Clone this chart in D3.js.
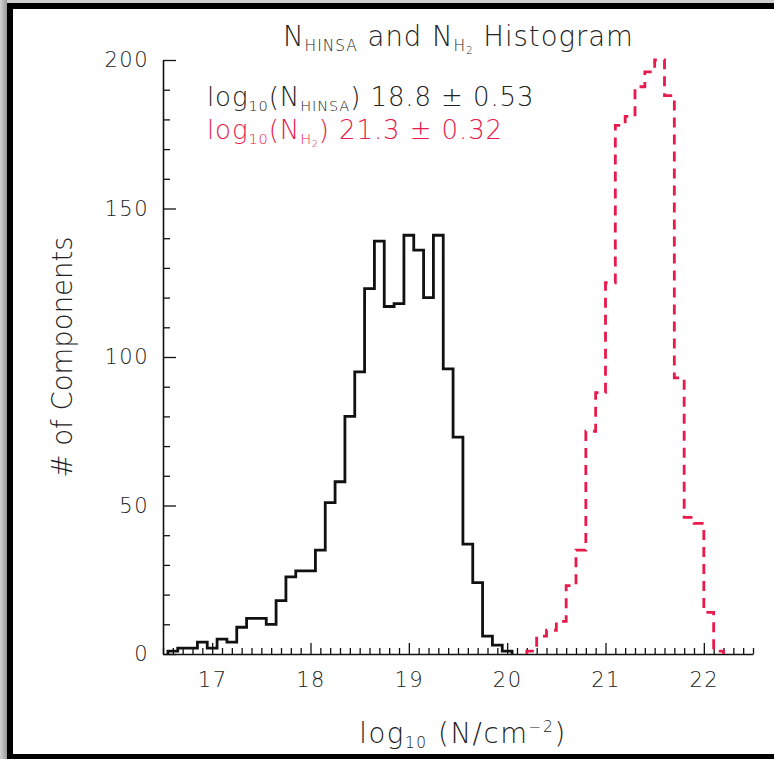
<!DOCTYPE html>
<html>
<head>
<meta charset="utf-8">
<script src="https://cdn.jsdelivr.net/npm/d3@7"></script>
<style>
  html, body { margin: 0; padding: 0; background: #ffffff; }
  svg { display: block; }
  text { font-family: "DejaVu Sans", sans-serif; }
</style>
</head>
<body>
<svg id="chart" width="774" height="759"></svg>
<script>
// Column density histograms: HINSA components (black) and H2 (red, dashed)
const hinsaBinStarts = [16.55, 16.65, 16.75, 16.85, 16.95, 17.05, 17.15, 17.25, 17.35, 17.45,
                        17.55, 17.65, 17.75, 17.85, 17.95, 18.05, 18.15, 18.25, 18.35, 18.45,
                        18.55, 18.65, 18.75, 18.85, 18.95, 19.05, 19.15, 19.25, 19.35, 19.45,
                        19.55, 19.65, 19.75, 19.85, 19.95];
const hinsaCounts = [1, 2, 2, 4, 2, 5, 4, 9, 12, 12,
                     10, 18, 26, 28, 28, 35, 51, 58, 80, 95,
                     123, 139, 117, 118, 141, 136, 120, 141, 96, 73,
                     37, 24, 6, 3, 1];

const h2BinStarts = [20.2, 20.3, 20.4, 20.5, 20.6, 20.7, 20.8, 20.9, 21.0, 21.1,
                     21.2, 21.3, 21.4, 21.5, 21.6, 21.7, 21.8, 21.9, 22.0, 22.1];
const h2Counts = [1, 6, 8, 11, 23, 35, 75, 88, 125, 178,
                  181, 191, 196, 200, 188, 93, 46, 44, 14, 1];
const binWidth = 0.1;

const xTickValues = [17, 18, 19, 20, 21, 22];
const yTickValues = [0, 50, 100, 150, 200];
const xDomain = [16.5, 22.5];
const yDomain = [0, 200];

const hinsaStats = { mean: "18.8", sd: "0.53" };
const h2Stats = { mean: "21.3", sd: "0.32" };

const RED = "#e8194b";
const INK = "#222";

const svg = d3.select("#chart");

// window frame
const defs = svg.append("defs");
const grad = defs.append("linearGradient").attr("id", "frameGrad")
  .attr("x1", 0).attr("x2", 1).attr("y1", 0).attr("y2", 0);
grad.append("stop").attr("offset", 0).attr("stop-color", "#d4d4d4");
grad.append("stop").attr("offset", 1).attr("stop-color", "#9a9a9a");
svg.append("rect").attr("x", 0).attr("y", 0).attr("width", 774).attr("height", 3).attr("fill", "#cfcfcf");
svg.append("rect").attr("x", 0).attr("y", 0).attr("width", 7).attr("height", 759).attr("fill", "url(#frameGrad)");
svg.append("rect").attr("x", 7).attr("y", 3).attr("width", 767).attr("height", 6).attr("fill", "#000");
svg.append("rect").attr("x", 7).attr("y", 3).attr("width", 6).attr("height", 756).attr("fill", "#000");
svg.append("rect").attr("x", 7).attr("y", 754).attr("width", 767).attr("height", 5).attr("fill", "#000");

const x = d3.scaleLinear().domain(xDomain).range([163, 753]);
const y = d3.scaleLinear().domain(yDomain).range([654, 60]);

// axes (ticks point into the plot)
const xMinor = d3.range(Math.round(xDomain[0] * 10), Math.round(xDomain[1] * 10) + 1)
  .map(d => d / 10).filter(d => Math.abs(d - Math.round(d)) > 1e-6);
const yMinor = d3.range(0, 201, 10).filter(d => d % 50 !== 0);

const axisColor = "#111";

const gx = svg.append("g").attr("transform", `translate(0,${y(0)})`);
gx.call(d3.axisBottom(x).tickValues(xMinor).tickSize(-6).tickFormat(""))
  .call(g => g.select(".domain").remove());
gx.append("g").call(d3.axisBottom(x).tickValues(xTickValues).tickSizeInner(-11).tickSizeOuter(0)
  .tickPadding(18).tickFormat(d3.format("d")))
  .call(g => g.select(".domain").attr("stroke-width", 1.6));
gx.selectAll("line").attr("stroke", axisColor).attr("stroke-width", 1.3);
gx.selectAll(".domain").attr("stroke", axisColor);
gx.selectAll("text").attr("font-size", 21).attr("fill", INK).attr("letter-spacing", 1.5)
  .attr("font-family", "DejaVu Sans").attr("font-weight", 300);

const gy = svg.append("g").attr("transform", `translate(${x(xDomain[0])},0)`);
gy.call(d3.axisLeft(y).tickValues(yMinor).tickSize(-7).tickFormat(""))
  .call(g => g.select(".domain").remove());
gy.append("g").call(d3.axisLeft(y).tickValues(yTickValues).tickSizeInner(-13).tickSizeOuter(0)
  .tickPadding(14).tickFormat(d3.format("d")))
  .call(g => g.select(".domain").attr("stroke-width", 1.6));
gy.selectAll("line").attr("stroke", axisColor).attr("stroke-width", 1.3);
gy.selectAll(".domain").attr("stroke", axisColor);
gy.selectAll("text").attr("font-size", 21).attr("fill", INK).attr("letter-spacing", 1.5)
  .attr("font-family", "DejaVu Sans").attr("font-weight", 300);

// step outline of a histogram from bin starts and counts
function stepPoints(starts, counts) {
  const pts = [[starts[0], 0]];
  starts.forEach((s, i) => {
    pts.push([s, counts[i]]);
    pts.push([s + binWidth, counts[i]]);
  });
  pts.push([starts[starts.length - 1] + binWidth, 0]);
  return pts;
}
const line = d3.line().x(d => x(d[0])).y(d => y(d[1]));

svg.append("path").datum(stepPoints(hinsaBinStarts, hinsaCounts))
  .attr("d", line).attr("fill", "none").attr("stroke", "#111")
  .attr("stroke-width", 2.8).attr("stroke-linejoin", "miter");

svg.append("path").datum(stepPoints(h2BinStarts, h2Counts))
  .attr("d", line).attr("fill", "none").attr("stroke", RED)
  .attr("stroke-width", 2.8).attr("stroke-dasharray", "10,7");

// rich text: parts are [text, level] where level 0 = normal, 1 = subscript,
// 2 = subscript of a subscript, -1 = superscript
function richText(sel, parts, base) {
  const sizes = { 0: base, 1: base * 0.56, 2: base * 0.36, "-1": base * 0.56 };
  const shift = { 0: 0, 1: base * 0.19, 2: base * 0.3, "-1": -base * 0.4 };
  let prev = 0;
  parts.forEach(([str, lvl]) => {
    sel.append("tspan").attr("font-size", sizes[lvl])
      .attr("dy", (shift[lvl] - shift[prev]).toFixed(2)).text(str);
    prev = lvl;
  });
  return sel;
}

// title
richText(svg.append("text").attr("x", 283).attr("y", 46)
  .attr("fill", INK).attr("font-weight", 300).attr("letter-spacing", 1), [
  ["N", 0], ["HINSA", 1], [" and N", 0], ["H", 1], ["2", 2], [" Histogram", 0]
], 27.5);

// statistics labels
richText(svg.append("text").attr("x", 207).attr("y", 106)
  .attr("fill", INK).attr("font-weight", 300).attr("letter-spacing", 0.9), [
  ["log", 0], ["10", 1], ["(N", 0], ["HINSA", 1], [`) ${hinsaStats.mean} \u00B1 ${hinsaStats.sd}`, 0]
], 26);
richText(svg.append("text").attr("x", 207).attr("y", 139)
  .attr("fill", RED).attr("font-weight", 300).attr("letter-spacing", 0.9), [
  ["log", 0], ["10", 1], ["(N", 0], ["H", 1], ["2", 2], [`) ${h2Stats.mean} \u00B1 ${h2Stats.sd}`, 0]
], 26);

// axis titles
richText(svg.append("text").attr("x", 463).attr("y", 743).attr("text-anchor", "middle")
  .attr("fill", INK).attr("font-weight", 300).attr("letter-spacing", 1.6), [
  ["log", 0], ["10", 1], [" (N/cm", 0], ["\u22122", -1], [")", 0]
], 27.5);

svg.append("text").attr("transform", "translate(72,357) rotate(-90)")
  .attr("text-anchor", "middle").attr("font-size", 27.5).attr("fill", INK)
  .attr("font-weight", 300).text("# of Components");
</script>
</body>
</html>
